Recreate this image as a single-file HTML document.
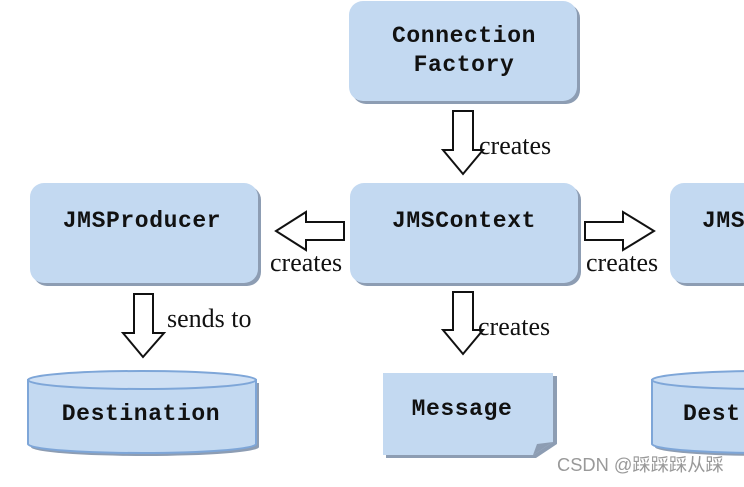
<!DOCTYPE html>
<html><head><meta charset="utf-8"><style>
body{margin:0;width:744px;height:482px;background:#fff;overflow:hidden;position:relative}
.m{font-family:"Liberation Mono",monospace;font-weight:bold;font-size:23px;letter-spacing:0.6px;fill:#111}
.t{font-family:"Liberation Serif",serif;font-size:26px;fill:#111}
</style></head><body>
<svg width="744" height="482" viewBox="0 0 744 482" xmlns="http://www.w3.org/2000/svg">
<defs>
<g id="box"><rect x="3" y="3" width="228" height="100" rx="14" fill="#8d9db3"/><rect x="0" y="0" width="228" height="100" rx="14" fill="#c3d9f1"/></g>
</defs>
<use href="#box" x="349" y="1"/>
<use href="#box" x="30" y="183"/>
<use href="#box" x="350" y="183"/>
<use href="#box" x="670" y="183"/>
<text class="m" x="464" y="42" text-anchor="middle">Connection</text>
<text class="m" x="464" y="71" text-anchor="middle">Factory</text>
<text class="m" x="142" y="227" text-anchor="middle">JMSProducer</text>
<text class="m" x="464" y="227" text-anchor="middle">JMSContext</text>
<text class="m" x="702" y="227">JMS</text>
<g fill="#fff" stroke="#111" stroke-width="2">
<polygon points="453,111 473,111 473,150 483,150 463,174 443,150 453,150"/>
<polygon points="453,292 473,292 473,330 483,330 463,354 443,330 453,330"/>
<polygon points="134,294 153,294 153,333 164,333 143,357 123,333 134,333"/>
<polygon points="344,222 306,222 306,212 276,231 306,250 306,240 344,240"/>
<polygon points="585,222 623,222 623,212 654,231 623,250 623,240 585,240"/>
</g>
<text class="t" x="479" y="154">creates</text>
<text class="t" x="478" y="335">creates</text>
<text class="t" x="167" y="327">sends to</text>
<text class="t" x="270" y="271">creates</text>
<text class="t" x="586" y="271">creates</text>
<g>
<path d="M31,383 L31,447 A114,9 0 0 0 259,447 L259,383 Z" fill="#8d9db3"/>
<path d="M28,380 L28,444 A114,9 0 0 0 256,444 L256,380 Z" fill="#c3d9f1" stroke="#7ea6d8" stroke-width="2"/>
<ellipse cx="142" cy="380" rx="114" ry="9" fill="#cfe0f4" stroke="#7ea6d8" stroke-width="2"/>
<path d="M655,383 L655,447 A114,9 0 0 0 883,447 L883,383 Z" fill="#8d9db3"/>
<path d="M652,380 L652,444 A114,9 0 0 0 880,444 L880,380 Z" fill="#c3d9f1" stroke="#7ea6d8" stroke-width="2"/>
<ellipse cx="766" cy="380" rx="114" ry="9" fill="#cfe0f4" stroke="#7ea6d8" stroke-width="2"/>
</g>
<text class="m" x="141" y="420" text-anchor="middle">Destination</text>
<text class="m" x="683" y="420">Dest</text>
<path d="M386,376 L557,376 L557,444 L536,458 L386,458 Z" fill="#8d9db3"/>
<path d="M383,373 L553,373 L553,442 L533,455 L383,455 Z" fill="#c3d9f1"/>
<path d="M533,455 L537,444 L553,442 Z" fill="#8d9db3"/>
<text class="m" x="462" y="415" text-anchor="middle">Message</text>
<text x="557" y="471" font-family="Liberation Sans, Noto Sans CJK SC, sans-serif" font-size="18.3" fill="#999">CSDN @踩踩踩从踩</text>
</svg>
</body></html>
